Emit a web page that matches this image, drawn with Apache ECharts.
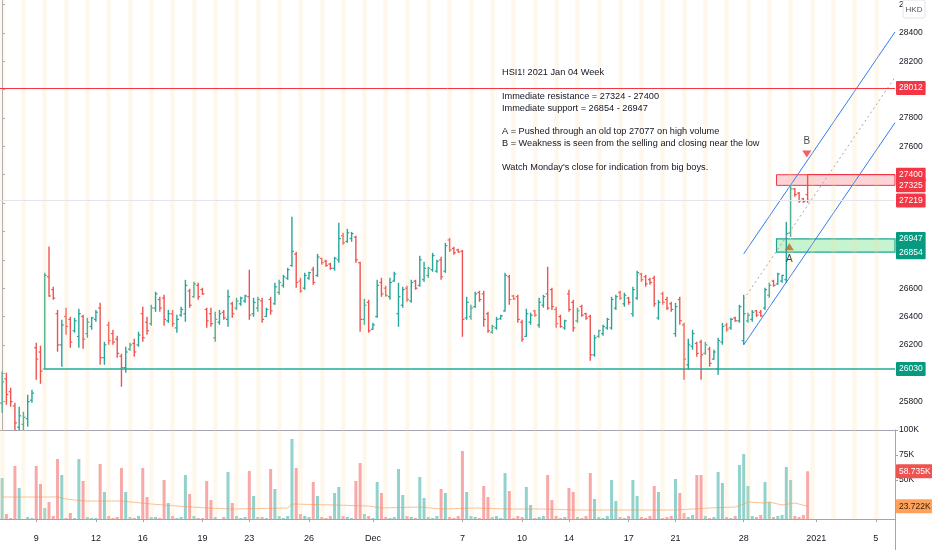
<!DOCTYPE html>
<html><head><meta charset="utf-8">
<script src="https://cdn.jsdelivr.net/npm/echarts@6/dist/echarts.min.js"></script>
<style>html,body{margin:0;padding:0;background:#fff}#c{width:932px;height:550px}</style>
</head><body><div id="c"></div>
<script>
// ---------- DATA ----------
const opens = [25790,25960,25870,25770,25620,25640,25680,25810,26180,26150,
26030,26680,26590,26420,26200,26400,26380,26300,26260,26400,
26280,26330,26380,26460,26110,26340,26280,26240,26120,26040,
26170,26210,26200,26420,26360,26350,26460,26520,26530,26370,
26420,26320,26410,26420,26580,26540,26620,26590,26450,26420,
26250,26360,26430,26380,26490,26460,26490,26510,26540,26420,
26460,26510,26400,26520,26490,26570,26620,26670,26760,26840,
26650,26600,26670,26730,26690,26810,26790,26770,26740,26800,
26970,26930,26950,26960,26780,26380,26500,26310,26400,26640,
26600,26540,26650,26420,26480,26600,26510,26650,26620,26660,
26690,26730,26720,26800,26720,26940,26880,26870,26860,26390,
26400,26470,26570,26560,26420,26290,26320,26385,26440,26680,
26545,26540,26360,26260,26360,26440,26340,26480,26560,26590,
26450,26400,26320,26560,26500,26370,26470,26420,26400,26130,
26260,26280,26320,26320,26460,26570,26490,26530,26420,26530,
26700,26680,26660,26670,26390,26560,26520,26490,26280,26520,
26340,26060,26190,26210,26220,26140,26170,26100,26030,26220,
26340,26320,26390,26370,26230,26370,26380,26440,26430,26460,
26550,26650,26630,26650,26660,26990,27300,27270,27230,27260];
const highs = [26013,26004,25898,25793,25764,25729,25849,25884,26215,26194,
26708,26894,26610,26447,26377,26462,26398,26391,26455,26413,
26391,26398,26447,26497,26222,26363,26307,26264,26138,26187,
26215,26243,26293,26469,26398,26483,26575,26539,26553,26447,
26447,26413,26469,26659,26596,26645,26638,26603,26462,26462,
26433,26447,26447,26589,26504,26532,26539,26553,26730,26532,
26539,26532,26462,26539,26638,26659,26694,26744,27103,26856,
26673,26708,26716,26751,26842,26814,26800,26779,26821,27061,
26990,27018,26997,26969,26786,26525,26518,26356,26659,26673,
26617,26673,26716,26638,26610,26617,26659,26659,26828,26786,
26751,26849,26800,26821,26920,26955,26892,26878,26870,26539,
26483,26575,26582,26582,26433,26342,26398,26413,26708,26694,
26553,26553,26377,26455,26427,26447,26532,26553,26751,26603,
26469,26413,26377,26589,26518,26462,26483,26427,26413,26271,
26307,26342,26391,26539,26553,26582,26568,26539,26610,26723,
26708,26694,26673,26687,26518,26575,26539,26504,26497,26539,
26356,26243,26307,26222,26236,26222,26187,26166,26250,26356,
26356,26391,26398,26483,26553,26427,26447,26447,26447,26603,
26638,26659,26708,26694,27068,27325,27307,27279,27237,27400];
const lows = [25722,25778,25764,25570,25580,25590,25623,25793,25955,25926,
26025,26539,26518,26152,26046,26271,26180,26286,26180,26173,
26250,26307,26363,26060,26060,26201,26201,26110,25905,26004,
26159,26117,26187,26222,26271,26335,26433,26433,26335,26356,
26328,26286,26398,26363,26462,26532,26518,26553,26321,26328,
26222,26342,26377,26328,26391,26447,26476,26497,26377,26398,
26433,26356,26398,26413,26483,26553,26603,26659,26751,26603,
26568,26589,26659,26624,26680,26765,26751,26730,26723,26779,
26906,26920,26927,26779,26293,26342,26286,26307,26391,26539,
26539,26518,26645,26328,26462,26504,26497,26589,26610,26645,
26673,26716,26708,26659,26708,26856,26835,26849,26257,26377,
26377,26462,26504,26328,26286,26279,26307,26377,26433,26483,
26518,26356,26222,26257,26342,26398,26321,26462,26447,26447,
26321,26321,26307,26433,26293,26356,26398,26377,26088,26117,
26250,26264,26307,26307,26447,26518,26469,26483,26398,26518,
26645,26610,26624,26469,26377,26483,26447,26433,26257,26342,
25955,26025,26166,26117,25955,26131,26046,26095,25990,26201,
26293,26307,26363,26356,26201,26356,26363,26398,26398,26447,
26532,26610,26624,26638,26638,26962,27244,27202,27202,27202];
const closes = [25940,25850,25800,25650,25700,25690,25800,25860,26100,26015,
26690,26545,26530,26200,26340,26330,26220,26370,26420,26240,
26360,26390,26430,26110,26200,26230,26220,26140,26040,26150,
26200,26150,26270,26250,26300,26460,26560,26460,26380,26420,
26350,26380,26450,26620,26480,26630,26540,26560,26370,26350,
26380,26420,26390,26540,26420,26510,26530,26545,26410,26500,
26520,26380,26450,26440,26610,26640,26680,26730,26860,26640,
26580,26690,26710,26640,26820,26780,26760,26740,26810,26950,
26920,26990,26985,26800,26380,26480,26300,26340,26620,26560,
26550,26640,26700,26540,26590,26520,26640,26600,26800,26740,
26740,26830,26790,26680,26900,26870,26850,26855,26380,26500,
26460,26560,26520,26380,26300,26330,26380,26405,26690,26520,
26525,26380,26240,26420,26410,26410,26500,26540,26460,26470,
26350,26330,26370,26450,26320,26440,26410,26390,26130,26250,
26300,26330,26380,26520,26540,26530,26550,26500,26590,26710,
26660,26630,26640,26490,26500,26500,26460,26450,26470,26370,
26100,26200,26280,26140,26130,26200,26070,26150,26230,26330,
26310,26380,26370,26470,26420,26410,26430,26410,26405,26590,
26620,26620,26700,26690,26985,27300,27260,27215,27210,27219];
// volume in thousands
const volumesK = [52,16,12,64,42,11,13,12,64,46,
22,28,14,71,55,12,17,12,71,49,
13,12,12,66,38,14,12,13,62,38,
13,12,14,62,33,13,13,12,50,27,
14,12,13,55,36,14,12,12,49,30,
13,11,13,58,27,14,12,13,59,34,
13,13,12,61,41,14,12,14,91,62,
16,14,13,48,34,13,12,14,37,43,
14,13,12,49,67,16,14,12,48,37,
13,12,13,61,35,14,13,12,53,32,
13,12,14,41,37,13,12,14,79,38,
14,13,12,44,33,13,14,12,57,39,
12,14,13,43,25,12,13,14,55,30,
14,12,13,42,38,13,12,14,57,31,
13,12,14,50,29,13,12,14,50,34,
13,12,14,44,38,12,13,14,51,37,
17,13,15,55,55,14,12,13,58,47,
13,12,14,65,76,44,14,13,15,48,
28,13,14,15,63,50,14,13,15,58.735];
// volume moving average readings (bar number, thousands)
const maBars = [0,13,15,19,28,35,41,48,54,67,68,78,86,89,98,103,111,119,127,135,143,150,158,166,172,174,175,179,180,183,186,189];
const maValsK = [33,33,31,29,29,26,24,22,21,22,26,25,24,22,23,21,22,21,21,20,20,20,20,22,23,26,28,27,28,25,27,23.722];
const tickLabels = ['9','12','16','19','23','26','Dec','7','10','14','17','21','28','2021','5'];
const tickBars = [8,22,33,47,58,72,87,108,122,133,147,158,174,191,205];
const totalSlots = 210;
// levels / drawings (price values)
const resistanceTop = 27400, resistanceBottom = 27325;
const supportTop = 26947, supportBottom = 26854;
const baseLine = 26030, topLine = 28012, lastPrice = 27219;
const channelLower = [[174, 26201], [209.5, 27767]];
const channelUpper = [[174, 26842], [209.5, 28407]];
const channelMid = [[174, 26522], [209.5, 28087]];
const markerA = [184.7, 26892], markerB = [188.8, 27546];
const lastVolume = 58735, lastVolumeMA = 23722;
const noteLines = ['HSI1! 2021 Jan 04 Week','','Immediate resistance = 27324 - 27400','Immediate support = 26854 - 26947','','A = Pushed through an old top 27077 on high volume','B = Weakness is seen from the selling and closing near the low','','Watch Monday\'s close for indication from big boys.'];

// ---------- BUILD ----------
const UP = '#26a69a', DOWN = '#ef5350';
const FONT = 'Liberation Sans';
const cats = Array.from({length: totalSlots}, (_, i) => 'b' + i);
const ohlc = opens.map((o, i) => [i, o, highs[i], lows[i], closes[i]]);
const volData = volumesK.map((v, i) => ({value: v * 1000, itemStyle: {color: closes[i] >= opens[i] ? 'rgba(38,166,154,0.5)' : 'rgba(239,83,80,0.5)'}}));
const maData = new Array(opens.length).fill('-');
maBars.forEach((b, k) => { maData[b] = maValsK[k] * 1000; });
const labelMap = {}; tickBars.forEach((b, k) => labelMap[b] = tickLabels[k]);
const stripes = []; for (let i = 0; i < totalSlots; i += 5) stripes.push({xAxis: i});
const stripeStyle = {color: 'rgba(250,215,160,0.2)', width: 4.5, type: 'solid'};
const hiddenPrice = new Set([25600, 26000, 26800, 27000, 27200, 27400, 28000]);
const NOLINE = {color: 'rgba(0,0,0,0)', width: 0.01, type: 'solid'};

function boxLabel(text, bg, fg) {
  return {show: true, position: 'end', formatter: text, color: fg || '#fff', backgroundColor: bg,
    padding: [3, 3, 2, 3], fontSize: 8.5, fontFamily: FONT, distance: 1, borderRadius: 1, opacity: 1};
}

const chart = echarts.init(document.getElementById('c'));
chart.setOption({
  animation: false,
  backgroundColor: '#ffffff',
  textStyle: {fontFamily: FONT},
  grid: [
    {left: 0, right: 37, top: 0, height: 430},
    {left: 0, right: 37, top: 430, height: 89}
  ],
  xAxis: [
    {type: 'category', gridIndex: 0, data: cats, boundaryGap: true,
      axisLine: {show: true, lineStyle: {color: '#a3a6af'}}, axisTick: {show: false}, axisLabel: {show: false}, splitLine: {show: false}},
    {type: 'category', gridIndex: 1, data: cats, boundaryGap: true,
      axisLine: {show: true, lineStyle: {color: '#a3a6af'}},
      axisTick: {show: true, alignWithLabel: true, length: 3, interval: (i) => labelMap[i] !== undefined, lineStyle: {color: '#a3a6af'}},
      axisLabel: {show: true, interval: (i) => labelMap[i] !== undefined, formatter: (v, i) => labelMap[i] || '',
        fontSize: 9, color: '#131722', margin: 15, fontFamily: FONT},
      splitLine: {show: false}},
    {type: 'value', gridIndex: 0, min: -0.5, max: totalSlots - 0.5, show: false}
  ],
  yAxis: [
    {type: 'value', gridIndex: 0, position: 'right', min: 25600, max: 28632, interval: 200, scale: true,
      axisLine: {show: true, lineStyle: {color: '#a3a6af'}},
      axisTick: {show: true, length: 3, lineStyle: {color: '#a3a6af'}},
      axisLabel: {fontSize: 8.5, color: '#131722', margin: 4, fontFamily: FONT, showMaxLabel: false,
        formatter: (v) => (v % 200 === 0 && !hiddenPrice.has(v)) ? String(v) : ''},
      splitLine: {show: false}},
    {type: 'value', gridIndex: 1, position: 'right', min: 11000, max: 100000,
      axisLine: {show: true, lineStyle: {color: '#a3a6af'}},
      axisTick: {show: true, length: 3, customValues: [50000, 75000, 100000], lineStyle: {color: '#a3a6af'}},
      axisLabel: {fontSize: 8.5, color: '#131722', margin: 4, fontFamily: FONT, customValues: [50000, 75000, 100000],
        formatter: (v) => (v / 1000) + 'K'},
      splitLine: {show: false}}
  ],
  series: [
    {type: 'line', xAxisIndex: 0, yAxisIndex: 0, data: [], z: 0, silent: true,
      markLine: {silent: true, symbol: ['none', 'none'], label: {show: false}, lineStyle: stripeStyle, data: stripes}},
    {type: 'line', xAxisIndex: 1, yAxisIndex: 1, data: [], z: 0, silent: true,
      markLine: {silent: true, symbol: ['none', 'none'], label: {show: false}, lineStyle: stripeStyle, data: stripes}},
    {type: 'line', xAxisIndex: 2, yAxisIndex: 0, data: [], z: 1, silent: true,
      markArea: {silent: true, data: [
        [{coord: [181.7, resistanceTop], itemStyle: {color: 'rgba(242,54,69,0.22)', borderColor: '#f23645', borderWidth: 1}}, {coord: [totalSlots - 0.5, resistanceBottom]}],
        [{coord: [181.7, supportTop], itemStyle: {color: 'rgba(80,220,110,0.32)', borderColor: '#1fa58e', borderWidth: 1.2}}, {coord: [totalSlots - 0.5, supportBottom]}]
      ]}},
    {type: 'custom', xAxisIndex: 0, yAxisIndex: 0, z: 3, clip: true, data: ohlc,
      encode: {x: 0, y: [1, 2, 3, 4]},
      renderItem: function (params, api) {
        const i = api.value(0);
        const o = api.coord([i, api.value(1)]);
        const h = api.coord([i, api.value(2)]);
        const l = api.coord([i, api.value(3)]);
        const c = api.coord([i, api.value(4)]);
        const col = api.value(4) >= api.value(1) ? UP : DOWN;
        return {type: 'group', children: [
          {type: 'line', shape: {x1: h[0], y1: h[1], x2: l[0], y2: l[1]}, style: {stroke: col, lineWidth: 1.4}},
          {type: 'line', shape: {x1: o[0] - 2, y1: o[1], x2: o[0], y2: o[1]}, style: {stroke: col, lineWidth: 1.2}},
          {type: 'line', shape: {x1: c[0], y1: c[1], x2: c[0] + 2, y2: c[1]}, style: {stroke: col, lineWidth: 1.2}}
        ]};
      }},
    {type: 'line', xAxisIndex: 2, yAxisIndex: 0, data: channelLower, symbol: 'none', z: 4, lineStyle: {color: '#2f7df6', width: 1}},
    {type: 'line', xAxisIndex: 2, yAxisIndex: 0, data: channelUpper, symbol: 'none', z: 4, lineStyle: {color: '#2f7df6', width: 1}},
    {type: 'line', xAxisIndex: 2, yAxisIndex: 0, data: channelMid, symbol: 'none', z: 4, lineStyle: {color: '#a3a6af', width: 1, type: [2, 3]}},
    {type: 'line', xAxisIndex: 2, yAxisIndex: 0, data: [], z: 5,
      markLine: {silent: true, symbol: ['none', 'none'], data: [
        {yAxis: lastPrice, lineStyle: {color: '#e3e5ea', width: 1, type: 'solid'}, label: boxLabel(String(lastPrice), '#f23645')},
        {yAxis: topLine, lineStyle: {color: '#f23645', width: 1, type: 'solid'}, label: boxLabel(String(topLine), '#f23645')},
        [{coord: [10, baseLine], lineStyle: {color: '#22ab94', width: 1.5, type: 'solid'}, label: boxLabel(String(baseLine), '#089981')}, {coord: [totalSlots - 0.5, baseLine]}],
        [{coord: [189, resistanceTop], lineStyle: {color: '#f23645', width: 1, type: 'solid'}, label: boxLabel(String(resistanceTop), '#f23645')}, {coord: [totalSlots - 0.5, resistanceTop]}],
        {yAxis: resistanceBottom, lineStyle: NOLINE, label: boxLabel(String(resistanceBottom), '#f23645')},
        {yAxis: supportTop, lineStyle: NOLINE, label: boxLabel(String(supportTop), '#089981')},
        {yAxis: supportBottom, lineStyle: NOLINE, label: boxLabel(String(supportBottom), '#089981')}
      ]}},
    {type: 'scatter', xAxisIndex: 2, yAxisIndex: 0, z: 6, symbol: 'triangle', symbolSize: [9, 7],
      itemStyle: {color: '#b5661f'}, data: [markerA],
      label: {show: true, formatter: 'A', position: 'bottom', distance: 4, color: '#131722', fontSize: 10, fontFamily: FONT}},
    {type: 'scatter', xAxisIndex: 2, yAxisIndex: 0, z: 6, symbol: 'path://M0,0 L10,0 L5,8 Z', symbolSize: [9, 7],
      itemStyle: {color: '#f23645'}, data: [markerB],
      label: {show: true, formatter: 'B', position: 'top', distance: 4, color: '#131722', fontSize: 10, fontFamily: FONT}},
    {type: 'bar', xAxisIndex: 1, yAxisIndex: 1, data: volData, barWidth: 3, z: 3,
      markLine: {silent: true, symbol: ['none', 'none'], data: [
        {yAxis: lastVolume, lineStyle: NOLINE, label: boxLabel('58.735K', '#ef5350')},
        {yAxis: lastVolumeMA, lineStyle: NOLINE, label: boxLabel('23.722K', '#ffa15c', '#3a2400')}
      ]}},
    {type: 'line', xAxisIndex: 1, yAxisIndex: 1, data: maData, connectNulls: true, symbol: 'none', z: 4,
      lineStyle: {color: 'rgba(245,150,80,0.6)', width: 1}}
  ],
  graphic: [
    {type: 'text', left: 502, top: 67, z: 100, silent: true,
      style: {text: noteLines.join('\n'), font: '9.2px "Liberation Sans"', fill: '#131722', lineHeight: 11.8}},
    {type: 'rect', z: 100, silent: true, shape: {x: 903, y: 0, width: 22, height: 18, r: 2},
      style: {fill: '#ffffff', stroke: '#e0e3eb', lineWidth: 1}},
    {type: 'text', z: 101, silent: true, x: 914, y: 10,
      style: {text: 'HKD', align: 'center', verticalAlign: 'middle', font: '8px "Liberation Sans"', fill: '#50535e'}},
    {type: 'line', z: 100, silent: true, shape: {x1: 895.5, y1: 519, x2: 895.5, y2: 550}, style: {stroke: '#a3a6af', lineWidth: 1}}
  ]
});
</script>
</body></html>
